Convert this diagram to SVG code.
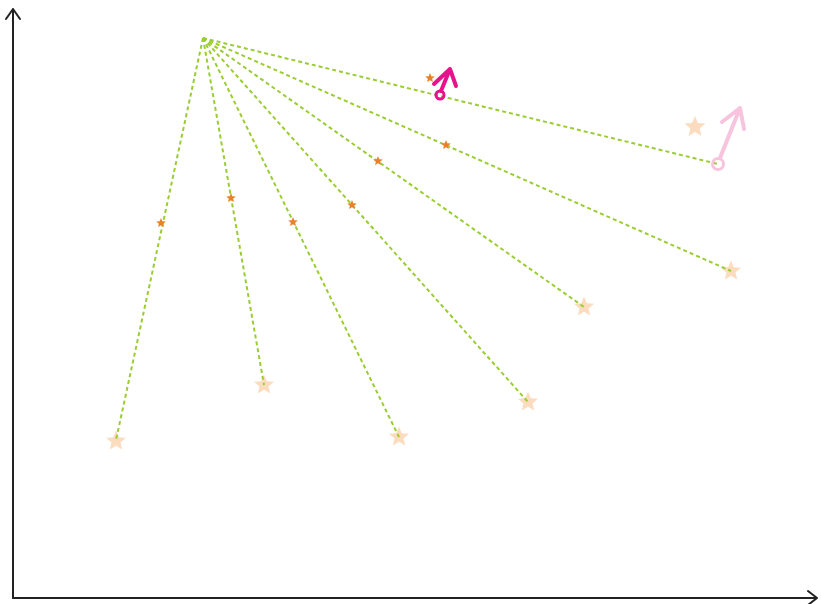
<svg xmlns="http://www.w3.org/2000/svg" width="821" height="604" viewBox="0 0 821 604">
<style>
.axis{stroke:#222;stroke-width:2;fill:none;stroke-linecap:round;stroke-linejoin:round}
.ray{stroke:#9acd32;stroke-width:2;stroke-dasharray:4 3;fill:none}
.big{fill:#fcd6b4;opacity:0.85}
.small{fill:#e8812a}
</style>
<defs>
<path id="star" d="M0,-10 L2.65,-3.64 L9.51,-3.09 L4.28,1.39 L5.88,8.09 L0,4.5 L-5.88,8.09 L-4.28,1.39 L-9.51,-3.09 L-2.65,-3.64 Z"/>
</defs>
<rect width="821" height="604" fill="#fff"/>
<g id="axes">
<path class="axis" d="M13,598 L13,9 M6,19 L13,9 L20,19"/>
<path class="axis" d="M13,598 L817,598 M808,591 L817,598 L808,605"/>
</g>
<g id="endpoints">
<use href="#star" class="big" transform="translate(116,441) scale(1.05)"/>
<use href="#star" class="big" transform="translate(264,385) scale(1.05)"/>
<use href="#star" class="big" transform="translate(399,437) scale(1.05)"/>
<use href="#star" class="big" transform="translate(528,402) scale(1.05)"/>
<use href="#star" class="big" transform="translate(584,307) scale(1.05)"/>
<use href="#star" class="big" transform="translate(731,271) scale(1.05)"/>
<use href="#star" class="big" transform="translate(695,127) scale(1.1)"/>
</g>
<g id="connectors">
<line class="ray" x1="203" y1="38" x2="116" y2="440"/>
<line class="ray" x1="203" y1="38" x2="264" y2="385"/>
<line class="ray" x1="203" y1="38" x2="399" y2="437"/>
<line class="ray" x1="203" y1="38" x2="528" y2="402"/>
<line class="ray" x1="203" y1="38" x2="584" y2="307"/>
<line class="ray" x1="203" y1="38" x2="731" y2="271"/>
<line class="ray" x1="203" y1="38" x2="718" y2="164"/>
</g>
<g id="midpoints">
<use href="#star" class="small" transform="translate(161,223) scale(0.5)"/>
<use href="#star" class="small" transform="translate(231,198) scale(0.5)"/>
<use href="#star" class="small" transform="translate(293,222) scale(0.5)"/>
<use href="#star" class="small" transform="translate(352,205) scale(0.5)"/>
<use href="#star" class="small" transform="translate(378,161) scale(0.5)"/>
<use href="#star" class="small" transform="translate(446,145) scale(0.5)"/>
<use href="#star" class="small" transform="translate(430,78) scale(0.5)"/>
</g>
<g id="vector-small" fill="none" stroke="#e8128c" stroke-width="4" stroke-linecap="round" stroke-linejoin="round">
<circle cx="440" cy="95" r="4" stroke-width="3"/>
<path d="M441,91 L450,69 M434,84 L450,69 L456,86"/>
</g>
<g id="vector-large" fill="none" stroke="#f7c3dd" stroke-width="4" stroke-linecap="round" stroke-linejoin="round">
<circle cx="718" cy="164" r="5.5" stroke-width="3"/>
<path d="M720,158 L740,108 M722,122 L740,108 L744,129"/>
</g>
</svg>
